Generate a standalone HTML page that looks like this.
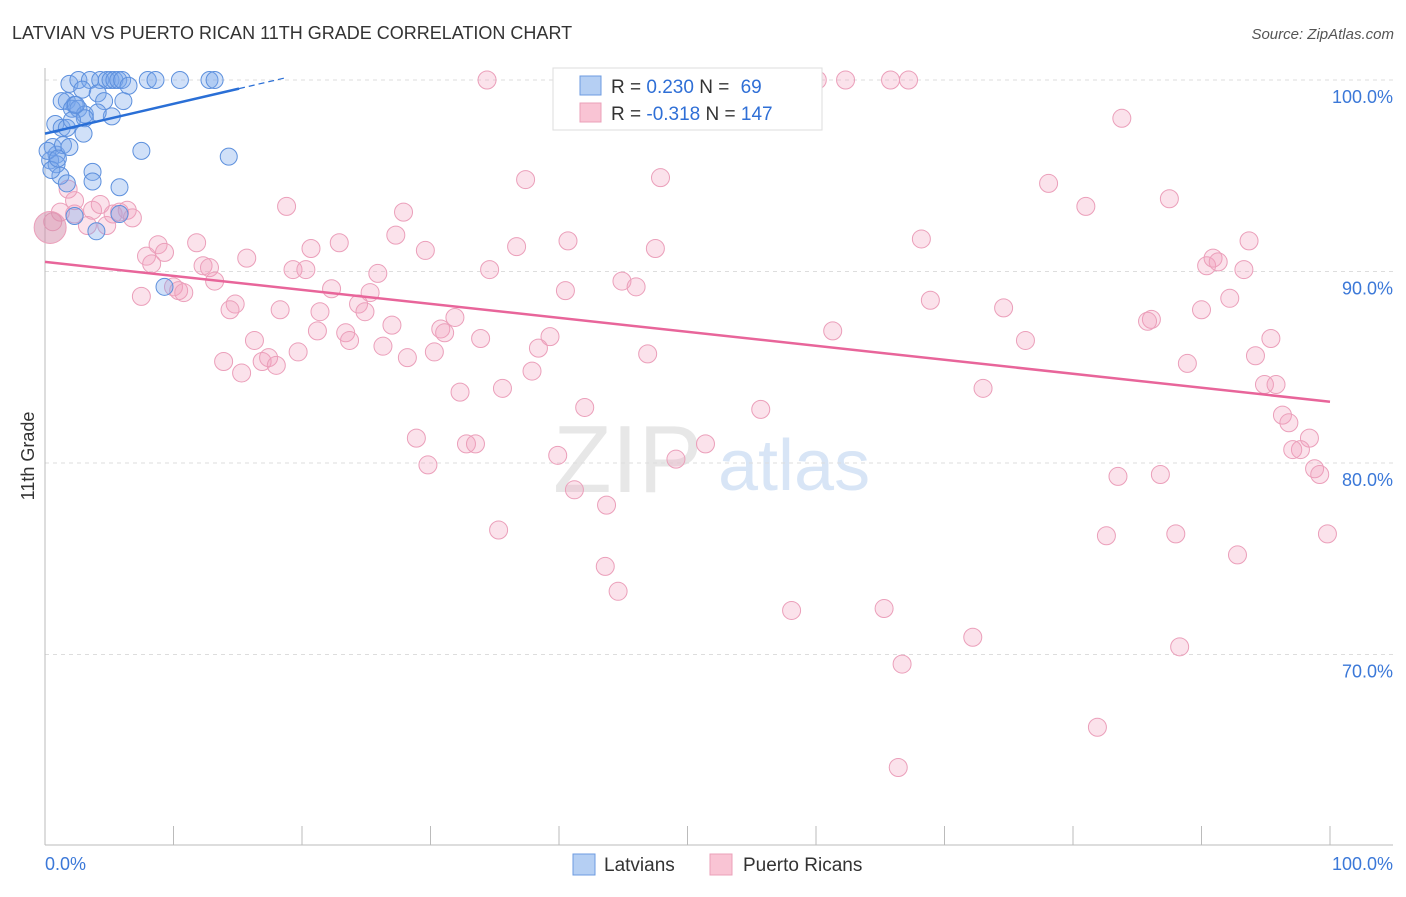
<!DOCTYPE html>
<html><head><meta charset="utf-8"><style>
body{margin:0;background:#fff;font-family:"Liberation Sans",sans-serif;}
svg text{font-family:"Liberation Sans",sans-serif;}
</style></head><body>
<svg id="chart" width="1406" height="892" xmlns="http://www.w3.org/2000/svg">
<text x="12" y="39" font-size="18" fill="#333">LATVIAN VS PUERTO RICAN 11TH GRADE CORRELATION CHART</text>
<text x="1394" y="39" font-size="15" fill="#555" font-style="italic" text-anchor="end">Source: ZipAtlas.com</text>
<text x="34" y="456" font-size="18" fill="#333" transform="rotate(-90 34 456)" text-anchor="middle">11th Grade</text>
<g><text x="553" y="492" font-size="96" fill="#ddd" font-family="Liberation Serif" opacity="0.7">ZIP</text><text x="718" y="490" font-size="72" fill="#c8dbf3" opacity="0.7">atlas</text></g>
<g id="grid"></g>
<g id="axes"></g>
<g id="pink"></g>
<g id="blue"></g>
<g id="lines"></g>
<g>
<rect x="553" y="68" width="269" height="62" fill="#fff" stroke="#ddd"/>
<rect x="580" y="76" width="21" height="19" fill="#b5cff3" stroke="#6d9be0"/>
<rect x="580" y="103" width="21" height="19" fill="#f9c4d4" stroke="#eba0b9"/>
<text x="611" y="93" font-size="19" fill="#333">R = <tspan fill="#2f6fd6">0.230</tspan>   N = <tspan fill="#2f6fd6" dx="6">69</tspan></text>
<text x="611" y="120" font-size="19" fill="#333">R = <tspan fill="#2f6fd6">-0.318</tspan>   N = <tspan fill="#2f6fd6">147</tspan></text>
</g>
<g>
<rect x="573" y="854" width="22" height="21" fill="#b5cff3" stroke="#6d9be0"/>
<text x="604" y="871" font-size="19" fill="#333">Latvians</text>
<rect x="710" y="854" width="22" height="21" fill="#f9c4d4" stroke="#eba0b9"/>
<text x="743" y="871" font-size="19" fill="#333">Puerto Ricans</text>
</g>
</svg>
<script>
const yTicks=[100,90,80,70];
const yTickLabels=["100.0%","90.0%","80.0%","70.0%"];
const xTickLabels=["0.0%","100.0%"];
const pinkX=[34.4,46.4,59.6,60.1,62.3,65.8,67.2,83.8,37.4,47.9,78.1,87.5,81.0,27.9,18.8,27.3,29.6,36.7,40.7,47.5,68.2,93.7,20.7,22.9,34.6,19.3,20.3,90.4,90.9,91.3,93.3,15.7,12.3,12.8,13.2,44.9,46.0,40.5,22.3,25.3,25.9,68.9,74.6,92.2,90.0,14.8,14.4,18.3,21.4,24.4,24.9,31.9,27.0,30.8,31.1,21.2,23.4,23.7,19.7,26.3,28.2,30.3,33.9,39.3,38.4,46.9,61.3,76.3,86.1,85.8,95.4,94.2,88.9,13.9,15.3,16.3,16.9,17.4,18.0,32.3,35.6,37.9,73.0,94.9,95.8,42.0,55.7,96.3,96.8,98.4,28.9,32.8,33.5,39.9,51.4,29.8,49.1,83.5,86.8,97.7,97.1,98.8,99.2,41.2,43.7,35.3,82.6,88.0,92.8,99.8,43.6,44.6,58.1,65.3,72.2,88.3,66.7,81.9,66.4,0.6,1.2,2.3,3.7,4.3,4.8,5.3,5.8,6.4,6.8,7.5,7.9,8.3,8.8,9.3,10.0,10.4,10.8,11.8,2.3,1.8,3.3];
const pinkY=[100,99.1,100,100,100,100,100,98.0,94.8,94.9,94.6,93.8,93.4,93.1,93.4,91.9,91.1,91.3,91.6,91.2,91.7,91.6,91.2,91.5,90.1,90.1,90.1,90.3,90.7,90.5,90.1,90.7,90.3,90.2,89.5,89.5,89.2,89.0,89.1,88.9,89.9,88.5,88.1,88.6,88.0,88.3,88.0,88.0,87.9,88.3,87.9,87.6,87.2,87.0,86.8,86.9,86.8,86.4,85.8,86.1,85.5,85.8,86.5,86.6,86.0,85.7,86.9,86.4,87.5,87.4,86.5,85.6,85.2,85.3,84.7,86.4,85.3,85.5,85.1,83.7,83.9,84.8,83.9,84.1,84.1,82.9,82.8,82.5,82.1,81.3,81.3,81.0,81.0,80.4,81.0,79.9,80.2,79.3,79.4,80.7,80.7,79.7,79.4,78.6,77.8,76.5,76.2,76.3,75.2,76.3,74.6,73.3,72.3,72.4,70.9,70.4,69.5,66.2,64.1,92.6,93.1,93.0,93.2,93.5,92.4,93.0,93.1,93.2,92.8,88.7,90.8,90.4,91.4,91.0,89.2,89.0,88.9,91.5,93.7,94.3,92.4];
const bigPink=[[0.4,92.3]];
const blueX=[1.9,2.6,3.5,4.3,4.8,5.1,5.4,5.7,6.0,6.5,8.0,8.6,10.5,12.8,13.2,2.9,4.1,1.7,2.3,1.3,2.1,2.6,3.1,4.6,6.1,5.2,4.1,0.8,1.3,3.1,3.0,1.7,0.6,0.9,1.4,1.9,0.4,0.9,0.2,1.2,1.7,3.7,3.7,5.8,5.8,4.0,2.3,7.5,14.3,9.3,0.5,1.0,2.1,2.4];
const blueY=[99.8,100,100,100,100,100,100,100,100,99.7,100,100,100,100,100,99.5,99.3,98.9,98.7,98.9,98.5,98.5,98.2,98.9,98.9,98.1,98.3,97.7,97.5,98.0,97.2,97.5,96.5,96.1,96.6,96.5,95.8,95.6,96.3,95.0,94.6,95.2,94.7,94.4,93.0,92.1,92.9,96.3,96.0,89.2,95.3,95.9,97.9,98.7];
const pinkTrend=[90.5,83.2]; // at x=0 and x=100
const blueTrend=[97.2,99.55,15.1,18.6]; // y at 0, y at solidEnd, solidEnd x, dashedEnd x
const NS="http://www.w3.org/2000/svg";
const X0=45,X1=1330,YT=80,PX=19.15;
const sx=v=>X0+(X1-X0)*v/100;
const sy=v=>YT+(100-v)*PX;
function mk(tag,attrs,parent){const e=document.createElementNS(NS,tag);for(const k in attrs)e.setAttribute(k,attrs[k]);parent.appendChild(e);return e;}
const grid=document.getElementById('grid'),axes=document.getElementById('axes');
yTicks.forEach((t,i)=>{
 const l=mk('line',{x1:X0,x2:1393,y1:sy(t),y2:sy(t),stroke:'#ddd','stroke-dasharray':'4,4'},grid);
 
 
 const tx=mk('text',{x:1393,y:sy(t)+23,'font-size':18,fill:'#3b78d8','text-anchor':'end'},axes);
 tx.textContent=yTickLabels[i];
 
 
});
mk('line',{x1:X0,x2:X0,y1:68,y2:845,stroke:'#bbb'},axes);
mk('line',{x1:X0,x2:1393,y1:845,y2:845,stroke:'#bbb'},axes);
for(let i=0;i<=10;i++){const t=mk('line',{x1:sx(i*10),x2:sx(i*10),y1:826,y2:845,stroke:'#bbb'},axes);
 
 }
const xl0=mk('text',{x:45,y:870,'font-size':18,fill:'#3b78d8'},axes);xl0.textContent=xTickLabels[0];


const xl1=mk('text',{x:1393,y:870,'font-size':18,fill:'#3b78d8','text-anchor':'end'},axes);xl1.textContent=xTickLabels[1];


const pg=document.getElementById('pink');
pinkX.forEach((x,i)=>{const c=mk('circle',{cx:sx(x),cy:sy(pinkY[i]),r:9,fill:'rgba(243,160,188,0.3)',stroke:'#eb9fba','stroke-width':1},pg);
 
 });
bigPink.forEach(p=>{const c=mk('circle',{cx:sx(p[0]),cy:sy(p[1]),r:16,fill:'rgba(210,140,170,0.5)',stroke:'#eb9fba'},pg);
 
 });
const bg=document.getElementById('blue');
blueX.forEach((x,i)=>{const c=mk('circle',{cx:sx(x),cy:sy(blueY[i]),r:8.5,fill:'rgba(120,165,235,0.35)',stroke:'#5d90dd','stroke-width':1},bg);
 
 });
const lg=document.getElementById('lines');
const pl=mk('line',{x1:sx(0),y1:sy(pinkTrend[0]),x2:sx(100),y2:sy(pinkTrend[1]),stroke:'#e8659a','stroke-width':2.5},lg);


const slope=(blueTrend[1]-blueTrend[0])/blueTrend[2];
const bl=mk('line',{x1:sx(0),y1:sy(blueTrend[0]),x2:sx(blueTrend[2]),y2:sy(blueTrend[1]),stroke:'#2a6fd6','stroke-width':2.5},lg);


const bd=mk('line',{x1:sx(blueTrend[2]),y1:sy(blueTrend[1]),x2:sx(blueTrend[3]),y2:sy(blueTrend[0]+slope*blueTrend[3]),stroke:'#2a6fd6','stroke-width':1.2,'stroke-dasharray':'6,4'},lg);


</script>
</body></html>
